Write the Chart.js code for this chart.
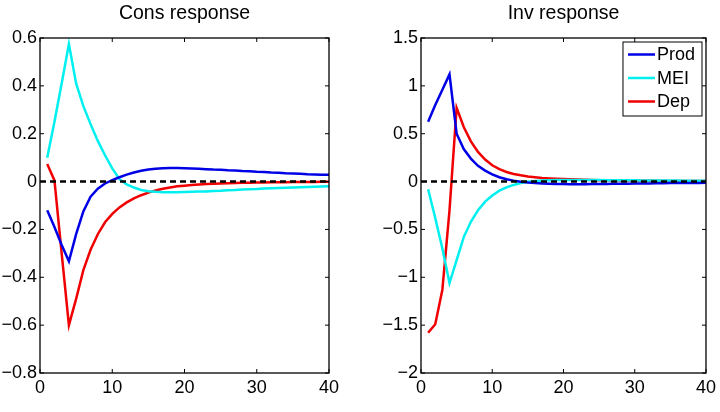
<!DOCTYPE html>
<html>
<head>
<meta charset="utf-8">
<script src="https://cdn.jsdelivr.net/npm/chart.js@4/dist/chart.umd.min.js"></script>
<style>
html, body { margin: 0; padding: 0; background: #fff; }
#wrap { position: relative; width: 720px; height: 412px; }
.box { position: absolute; top: 0; width: 360px; height: 412px; }
</style>
</head>
<body>
<div id="wrap">
    <div class="box" style="left:0"><canvas id="consChart"></canvas></div>
    <div class="box" style="left:360px"><canvas id="invChart"></canvas></div>
</div>
<script>
// impulse responses, periods 1..40
const periods = [1,2,3,4,5,6,7,8,9,10,11,12,13,14,15,16,17,18,19,20,
                 21,22,23,24,25,26,27,28,29,30,31,32,33,34,35,36,37,38,39,40];

const consProd = [-0.12,-0.19,-0.265,-0.333,-0.22,-0.125,-0.063,-0.03,-0.008,0.006,
                  0.018,0.029,0.038,0.045,0.05,0.054,0.056,0.057,0.057,0.056,
                  0.055,0.054,0.052,0.05,0.049,0.047,0.046,0.044,0.043,0.041,
                  0.04,0.038,0.037,0.035,0.034,0.033,0.031,0.03,0.029,0.028];
const consMEI = [0.10,0.25,0.41,0.575,0.41,0.315,0.24,0.17,0.11,0.055,
                 0.01,-0.012,-0.025,-0.035,-0.04,-0.043,-0.045,-0.045,-0.045,-0.044,
                 -0.043,-0.042,-0.041,-0.039,-0.038,-0.036,-0.035,-0.033,-0.032,-0.031,
                 -0.029,-0.028,-0.027,-0.026,-0.025,-0.024,-0.023,-0.022,-0.021,-0.02];
const consDep = [0.073,0.005,-0.30,-0.60,-0.49,-0.37,-0.285,-0.22,-0.17,-0.135,
                 -0.108,-0.087,-0.07,-0.057,-0.046,-0.037,-0.03,-0.025,-0.02,-0.017,
                 -0.014,-0.012,-0.01,-0.009,-0.008,-0.007,-0.006,-0.005,-0.005,-0.004,
                 -0.004,-0.003,-0.003,-0.003,-0.002,-0.002,-0.002,-0.002,-0.001,-0.001];

const invProd = [0.625,0.80,0.96,1.12,0.50,0.34,0.24,0.165,0.115,0.075,
                 0.045,0.025,0.01,-0.002,-0.01,-0.016,-0.02,-0.023,-0.025,-0.026,
                 -0.027,-0.027,-0.027,-0.026,-0.026,-0.025,-0.024,-0.023,-0.022,-0.021,
                 -0.02,-0.019,-0.018,-0.017,-0.016,-0.016,-0.015,-0.014,-0.014,-0.013];
const invMEI = [-0.08,-0.38,-0.70,-1.06,-0.82,-0.58,-0.42,-0.30,-0.21,-0.145,
                -0.095,-0.06,-0.035,-0.015,-0.002,0.006,0.011,0.014,0.016,0.017,
                0.017,0.017,0.017,0.016,0.016,0.015,0.015,0.014,0.013,0.013,
                0.012,0.012,0.011,0.011,0.01,0.01,0.009,0.009,0.008,0.008];
const invDep = [-1.58,-1.49,-1.13,-0.30,0.77,0.57,0.42,0.31,0.23,0.17,
                0.13,0.10,0.08,0.065,0.053,0.045,0.038,0.033,0.029,0.026,
                0.023,0.021,0.019,0.017,0.015,0.014,0.013,0.012,0.011,0.01,
                0.009,0.008,0.008,0.007,0.007,0.006,0.006,0.005,0.005,0.005];

const seriesNames = ['Prod', 'MEI', 'Dep'];
const xTicks = [0, 10, 20, 30, 40];
const consTicks = [-0.8, -0.6, -0.4, -0.2, 0, 0.2, 0.4, 0.6];
const invTicks = [-2, -1.5, -1, -0.5, 0, 0.5, 1, 1.5];
const zeroLine = [0, 0];
const zeroX = [0, 40];

Chart.defaults.font.family = '"Liberation Sans", Arial, sans-serif';
Chart.defaults.color = '#000';

const colors = ['rgb(0,0,230)', 'rgb(0,240,240)', 'rgb(240,0,0)'];

function fmt(v) {
    return v < 0 ? '\u2212' + Math.abs(v) : String(v);
}

function toPoints(xs, ys) {
    return ys.map((y, i) => ({ x: xs[i], y: y }));
}

// matlab-like box with inward ticks, plus an optional boxed legend
const framePlugin = {
    id: 'frame',
    afterDraw(chart, args, opts) {
        const ctx = chart.ctx;
        const a = chart.chartArea;
        const xs = chart.scales.x, ys = chart.scales.y;
        ctx.save();
        ctx.strokeStyle = '#000';
        ctx.lineWidth = 1.3;
        ctx.strokeRect(a.left, a.top, a.right - a.left, a.bottom - a.top);
        ctx.lineWidth = 1;
        ctx.beginPath();
        xs.ticks.forEach(t => {
            const px = xs.getPixelForValue(t.value);
            ctx.moveTo(px, a.bottom); ctx.lineTo(px, a.bottom - 4);
            ctx.moveTo(px, a.top); ctx.lineTo(px, a.top + 4);
        });
        ys.ticks.forEach(t => {
            const py = ys.getPixelForValue(t.value);
            ctx.moveTo(a.left, py); ctx.lineTo(a.left + 4, py);
            ctx.moveTo(a.right, py); ctx.lineTo(a.right - 4, py);
        });
        ctx.stroke();

        if (opts.legend) {
            const bx = a.right - 83, by = a.top + 4, bw = 79, bh = 74;
            ctx.fillStyle = '#fff';
            ctx.fillRect(bx, by, bw, bh);
            ctx.strokeStyle = '#000';
            ctx.lineWidth = 1;
            ctx.strokeRect(bx, by, bw, bh);
            ctx.font = '18px "Liberation Sans", Arial, sans-serif';
            ctx.textBaseline = 'middle';
            ctx.textAlign = 'left';
            chart.data.datasets.filter(d => d.label).forEach((d, i) => {
                const ry = by + 12.5 + i * 23.5;
                ctx.strokeStyle = d.borderColor;
                ctx.lineWidth = 2.5;
                ctx.beginPath();
                ctx.moveTo(bx + 5, ry); ctx.lineTo(bx + 32, ry);
                ctx.stroke();
                ctx.fillStyle = '#000';
                ctx.fillText(d.label, bx + 34, ry + 1);
            });
        }
        ctx.restore();
    }
};

function makeChart(id, title, series, yTicks, yWidth, padRight, showLegend) {
    const datasets = [{
        label: '',
        data: toPoints(zeroX, zeroLine),
        borderColor: '#000',
        borderWidth: 2.5,
        borderDash: [6, 4],
        pointRadius: 0
    }];
    series.forEach((s, i) => {
        datasets.push({
            label: seriesNames[i],
            data: toPoints(periods, s),
            borderColor: colors[i],
            backgroundColor: colors[i],
            borderWidth: 2.5,
            pointRadius: 0,
            tension: 0,
            fill: false
        });
    });
    return new Chart(document.getElementById(id).getContext('2d'), {
        type: 'line',
        data: { datasets: datasets },
        options: {
            responsive: true,
            maintainAspectRatio: false,
            animation: false,
            layout: { padding: { left: 0, right: padRight, top: 0, bottom: 0 } },
            plugins: {
                legend: { display: false },
                tooltip: { enabled: false },
                frame: { legend: showLegend }
            },
            scales: {
                x: {
                    type: 'linear',
                    min: 0,
                    max: 40,
                    afterBuildTicks: s => { s.ticks = xTicks.map(v => ({ value: v })); },
                    afterFit: s => { s.height = 39; },
                    grid: { display: false, drawTicks: false },
                    border: { display: false },
                    ticks: { font: { size: 18 }, padding: 4, maxRotation: 0, autoSkip: false }
                },
                // top axis only carries the title, centred over the plot box
                xTop: {
                    type: 'linear',
                    position: 'top',
                    min: 0,
                    max: 40,
                    afterFit: s => { s.height = 38; },
                    grid: { display: false, drawTicks: false },
                    border: { display: false },
                    ticks: { display: false },
                    title: {
                        display: true,
                        text: title,
                        color: '#000',
                        font: { size: 19.5 },
                        padding: { top: 2.3, bottom: 0 }
                    }
                },
                y: {
                    type: 'linear',
                    min: yTicks[0],
                    max: yTicks[yTicks.length - 1],
                    afterBuildTicks: s => { s.ticks = yTicks.map(v => ({ value: v })); },
                    afterFit: s => { s.width = yWidth; },
                    grid: { display: false, drawTicks: false },
                    border: { display: false },
                    ticks: { font: { size: 18 }, padding: 3, autoSkip: false, callback: v => fmt(v) }
                }
            }
        },
        plugins: [framePlugin]
    });
}

makeChart('consChart', 'Cons response', [consProd, consMEI, consDep], consTicks, 40, 31, false);
makeChart('invChart', 'Inv response', [invProd, invMEI, invDep], invTicks, 61, 10, true);
</script>
</body>
</html>
